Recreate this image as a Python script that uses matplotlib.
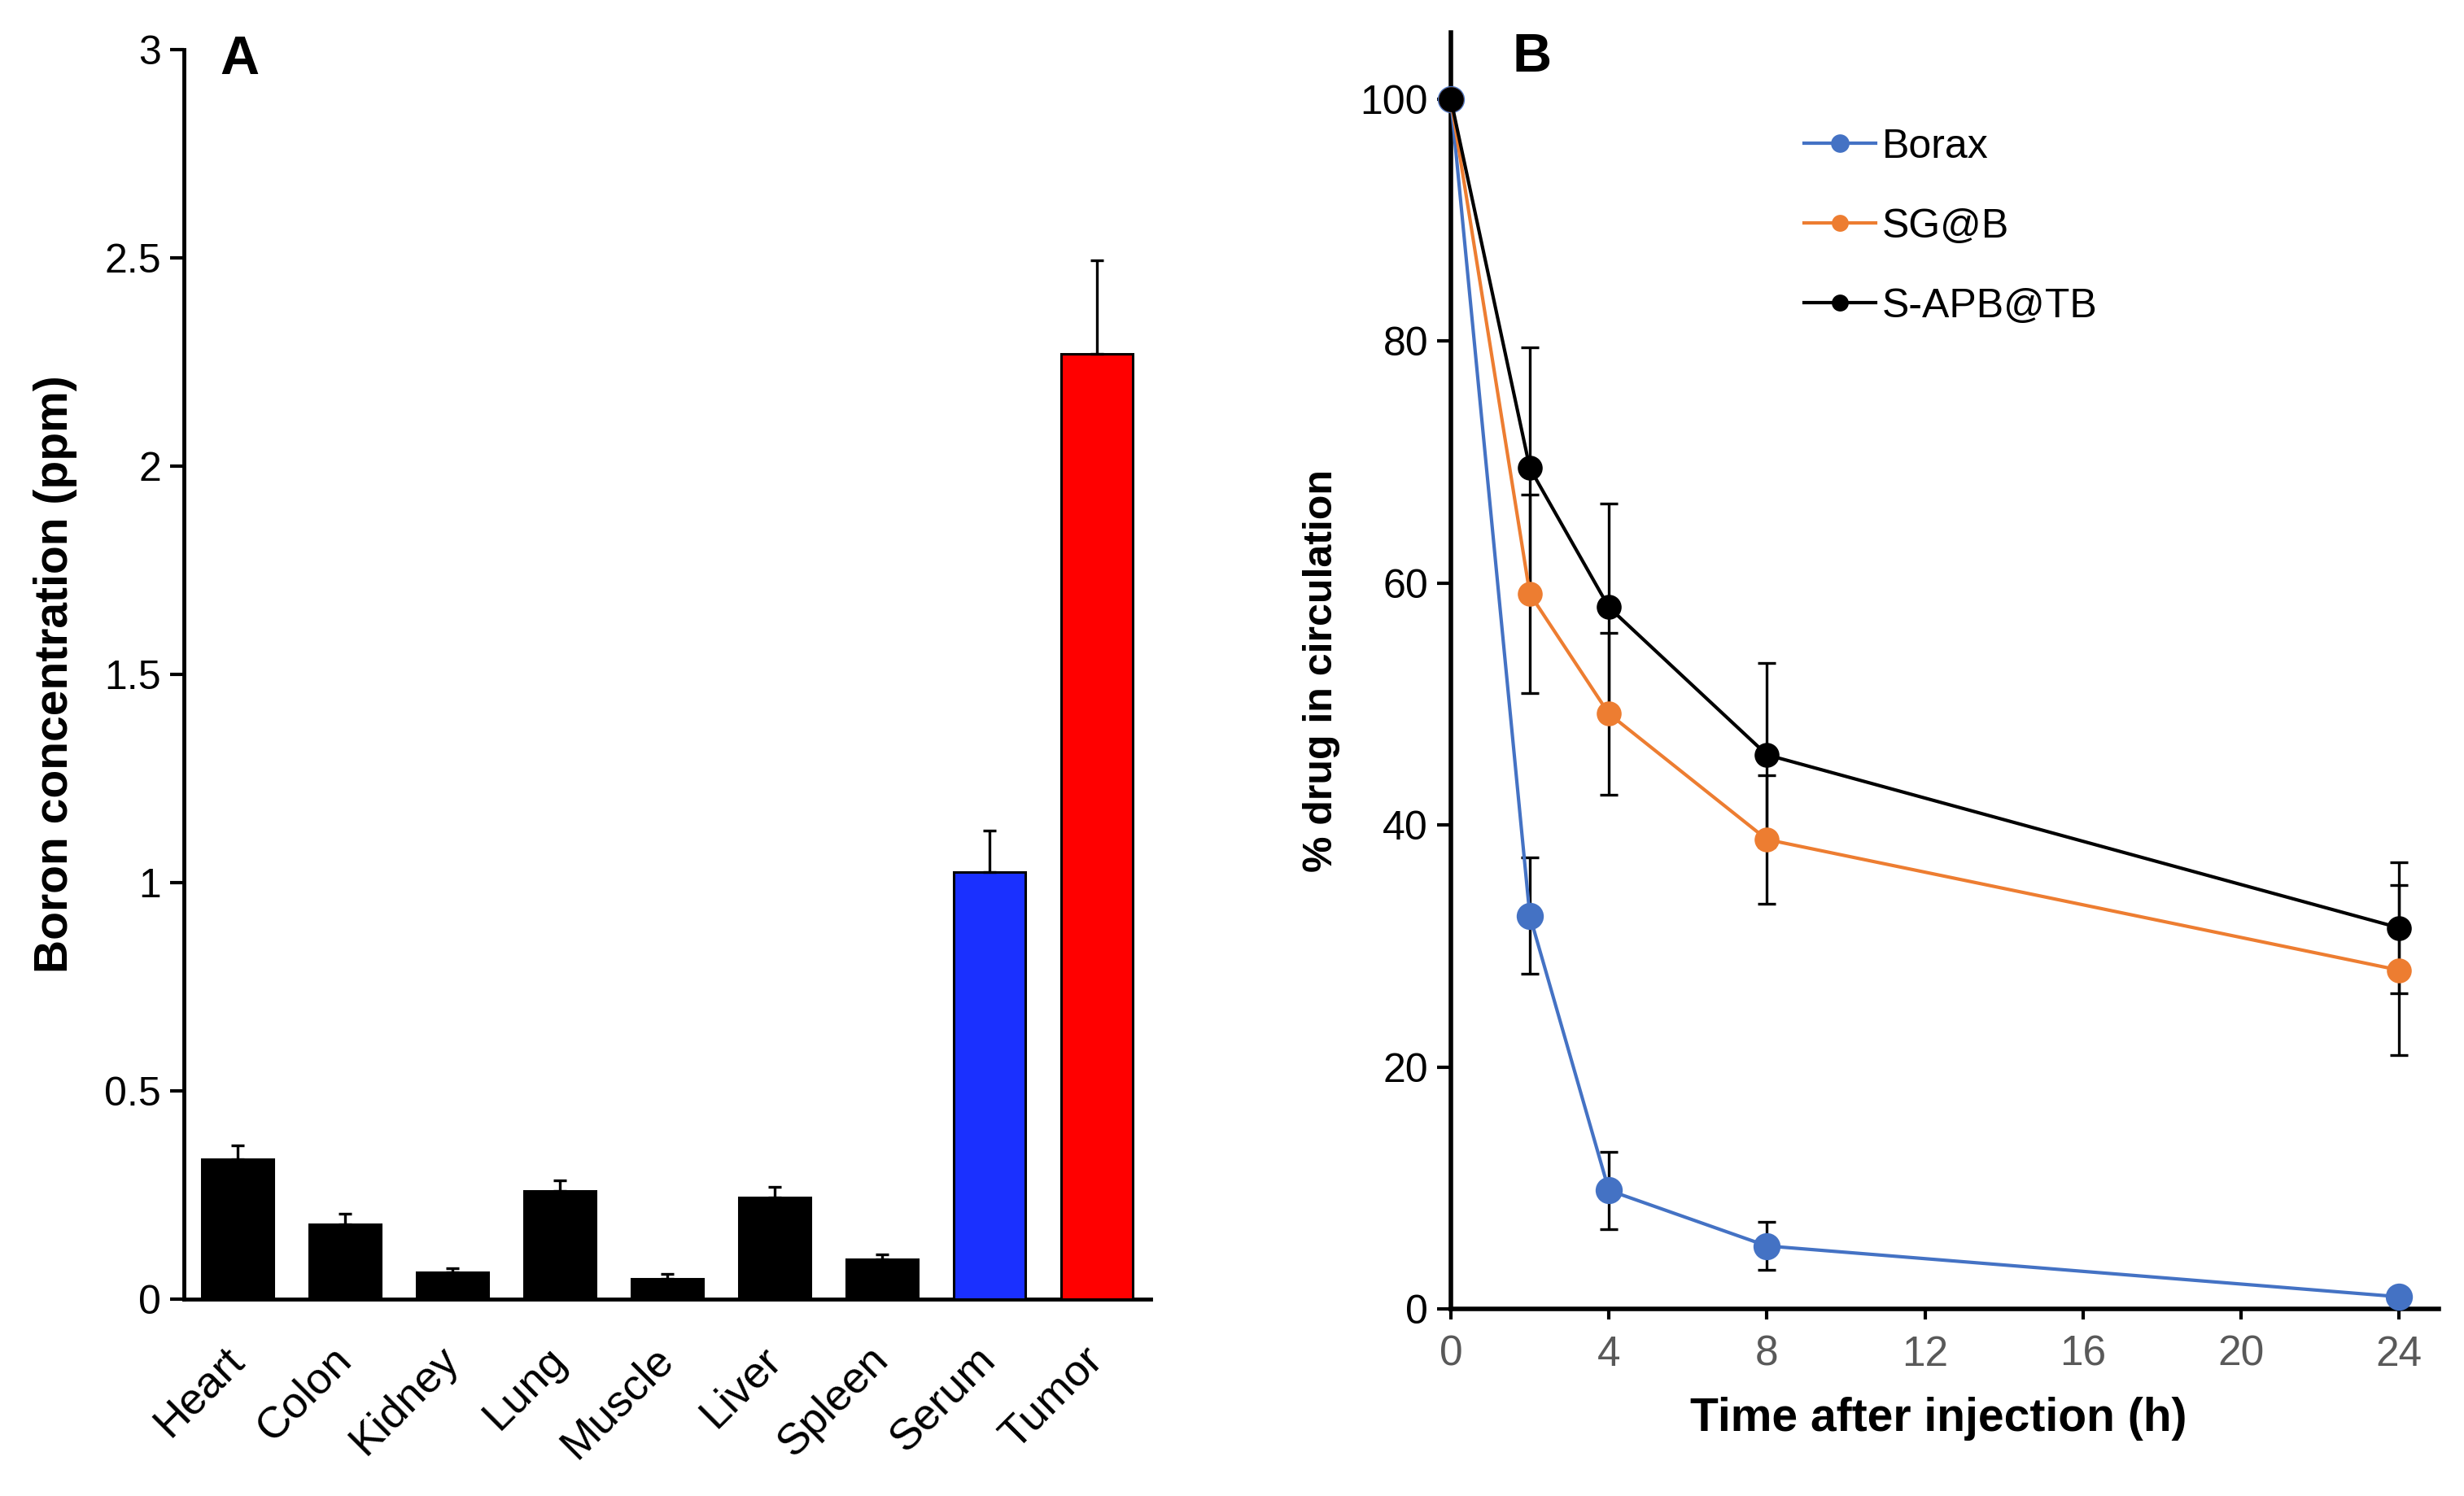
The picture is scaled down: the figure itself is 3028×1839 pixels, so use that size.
import numpy as np
import matplotlib
matplotlib.use("Agg")
import matplotlib.pyplot as plt
import matplotlib.transforms as mtransforms

plt.rcParams['font.family'] = ['Liberation Sans', 'DejaVu Sans']

# panel A data
organs = ['Heart', 'Colon', 'Kidney', 'Lung', 'Muscle', 'Liver', 'Spleen', 'Serum', 'Tumor']
boron = [0.335, 0.18, 0.065, 0.26, 0.048, 0.245, 0.095, 1.025, 2.27]
boron_err = [0.035, 0.025, 0.010, 0.025, 0.012, 0.025, 0.013, 0.10, 0.225]
bar_colors = ['black'] * 7 + ['#1A30FF', '#FF0000']

# panel B data
hours = [0, 2, 4, 8, 24]
borax = [100, 32.5, 9.8, 5.2, 1.0]
borax_err = [0, 4.8, 3.2, 2.0, 0]
sgb = [100, 59.1, 49.2, 38.8, 28.0]
sgb_err = [0, 8.2, 6.7, 5.3, 7.0]
sapb = [100, 69.5, 58.0, 45.8, 31.5]
sapb_err = [0, 10.0, 8.6, 7.6, 5.4]

fig = plt.figure(figsize=(30.28, 18.39), dpi=100)

# ---------------- panel A ----------------
ax1 = fig.add_axes([0.0746, 0.1316, 0.3924, 0.8352])
x = np.arange(len(organs))
ax1.bar(x, boron, width=0.67, color=bar_colors, edgecolor='black', linewidth=2.2,
        yerr=[np.zeros(len(boron)), boron_err],
        error_kw=dict(capsize=6, elinewidth=2.4, capthick=2.4, ecolor='black'), zorder=3)
ax1.set_xlim(-0.5, len(organs) - 0.5)
ax1.set_ylim(0, 3)
ax1.set_yticks([0, 0.5, 1, 1.5, 2, 2.5, 3])
ax1.set_yticklabels(['0', '0.5', '1', '1.5', '2', '2.5', '3'])
ax1.set_xticks(x)
ax1.set_xticklabels(organs, rotation=45, ha='right', va='center', rotation_mode='anchor')
offset = mtransforms.ScaledTranslation(18 / 100, 0, fig.dpi_scale_trans)
for lab in ax1.get_xticklabels():
    lab.set_transform(lab.get_transform() + offset)
ax1.tick_params(axis='x', length=0, pad=48, labelsize=39)
ax1.tick_params(axis='y', direction='out', length=12, width=3, labelsize=36, pad=8)
for s in ['top', 'right']:
    ax1.spines[s].set_visible(False)
for s in ['left', 'bottom']:
    ax1.spines[s].set_linewidth(3.5)
ax1.set_ylabel('Boron concentration (ppm)', fontsize=41, fontweight='bold', va='center')
ax1.yaxis.set_label_coords(-0.133, 0.5)
ax1.text(0.037, 1.012, 'A', transform=ax1.transAxes, fontsize=48, fontweight='bold',
         ha='left', va='top')

# ---------------- panel B ----------------
ax2 = fig.add_axes([0.5888, 0.1251, 0.4009, 0.8531])
series = [
    ('Borax', borax, borax_err, '#4472C4', 24),
    ('SG@B', sgb, sgb_err, '#ED7D31', 22),
    ('S-APB@TB', sapb, sapb_err, 'black', 22),
]
handles = []
for i, (name, vals, err, col, ms) in enumerate(series):
    ax2.errorbar(hours, vals, yerr=err, fmt='none', ecolor='black', elinewidth=2.4,
                 capsize=8, capthick=2.4, zorder=2)
    ln, = ax2.plot(hours, vals, '-o', color=col, lw=3, markersize=ms,
                   markeredgewidth=0, clip_on=False, zorder=3 + i, label=name)
    handles.append(ln)
ax2.set_xlim(0, 25)
ax2.set_ylim(0, 105.5)
ax2.set_xticks([0, 4, 8, 12, 16, 20, 24])
ax2.set_yticks([0, 20, 40, 60, 80, 100])
ax2.tick_params(axis='x', direction='out', length=9, width=3, labelsize=37,
                labelcolor='#595959', pad=14)
ax2.tick_params(axis='y', direction='out', length=12, width=3, labelsize=36, pad=8)
for s in ['top', 'right']:
    ax2.spines[s].set_visible(False)
for s in ['left', 'bottom']:
    ax2.spines[s].set_linewidth(4)
ax2.set_ylabel('% drug in circulation', fontsize=36, fontweight='bold', va='center')
ax2.yaxis.set_label_coords(-0.131, 0.5)
ax2.set_xlabel('Time after injection (h)', fontsize=41, fontweight='bold', va='center')
ax2.xaxis.set_label_coords(0.494, -0.086)
ax2.text(0.062, 1.0, 'B', transform=ax2.transAxes, fontsize=48, fontweight='bold',
         ha='left', va='top')

leg = ax2.legend(handles=handles, loc='upper left', bbox_to_anchor=(0.358, 0.925),
                 frameon=False, fontsize=36, handlelength=1.75, handletextpad=0.15,
                 labelspacing=1.04, borderpad=0, borderaxespad=0, markerscale=0.68)

fig.savefig('out.png', dpi=100)
